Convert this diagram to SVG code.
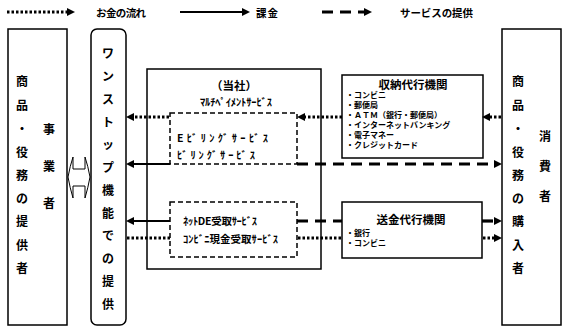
<svg xmlns="http://www.w3.org/2000/svg" width="569" height="334" viewBox="0 0 569 334">
<defs>
<style>
text{font-family:"Noto Sans CJK JP","Noto Sans",sans-serif;font-weight:bold;fill:#000;dominant-baseline:central}
.box{fill:#fff;stroke:#000;stroke-width:1.5}
.dbox{fill:#fff;stroke:#000;stroke-width:1.5;stroke-dasharray:5 3}
.dot{fill:none;stroke:#000;stroke-width:3;stroke-dasharray:2.5 2}
.sol{fill:none;stroke:#000;stroke-width:2.2}
.dash{fill:none;stroke:#000;stroke-width:3.2;stroke-dasharray:11 7}
.col{font-size:12px;text-anchor:middle}
.t11{font-size:11.5px;text-anchor:middle}
.li{font-size:8px}
.hk{font-size:10.5px}
</style>
<marker id="ah" viewBox="0 0 8 8" refX="1" refY="4" markerWidth="8" markerHeight="8" markerUnits="userSpaceOnUse" orient="auto">
<path d="M0,0 L8,4 L0,8 z" fill="#000"/>
</marker>
</defs>
<rect width="569" height="334" fill="#fff"/>

<g id="legend">
<line class="dot" x1="7" y1="12" x2="68" y2="12" marker-end="url(#ah)"/>
<text x="96" y="12" font-size="10.5" textLength="50">お金の流れ</text>
<line class="sol" x1="180" y1="12" x2="243" y2="12" marker-end="url(#ah)"/>
<text x="256" y="12" font-size="10.5" textLength="22">課金</text>
<line class="dash" x1="322" y1="12" x2="365" y2="12" marker-end="url(#ah)"/>
<text x="400" y="12" font-size="10.5" textLength="73">サービスの提供</text>
</g>

<g id="provider">
<rect class="box" x="8" y="29" width="59" height="296"/>
<text class="col"><tspan x="22" y="80">商</tspan><tspan x="22" y="104">品</tspan><tspan x="22" y="128">・</tspan><tspan x="22" y="151">役</tspan><tspan x="22" y="174">務</tspan><tspan x="22" y="197">の</tspan><tspan x="22" y="220">提</tspan><tspan x="22" y="244">供</tspan><tspan x="22" y="267">者</tspan></text>
<text class="col"><tspan x="49" y="128">事</tspan><tspan x="49" y="165">業</tspan><tspan x="49" y="202">者</tspan></text>
</g>

<g id="exchange">
<path d="M68,177 Q70,166 73,157 V169 H85 V157 Q88,166 90,177 Q88,188 85,198 V186 H73 V198 Q70,188 68,177 Z" fill="#fff" stroke="#000" stroke-width="1"/>
</g>

<g id="onestop">
<rect class="box" x="91" y="29" width="35" height="296" rx="6" ry="6"/>
<text class="col"><tspan x="108" y="52">ワ</tspan><tspan x="108" y="75">ン</tspan><tspan x="108" y="98">ス</tspan><tspan x="108" y="121">ト</tspan><tspan x="108" y="143">ッ</tspan><tspan x="108" y="166">プ</tspan><tspan x="108" y="189">機</tspan><tspan x="108" y="212">能</tspan><tspan x="108" y="234">で</tspan><tspan x="108" y="257">の</tspan><tspan x="108" y="280">提</tspan><tspan x="108" y="303">供</tspan></text>
</g>

<g id="company">
<rect class="box" x="147" y="69" width="174" height="200"/>
<text class="t11" x="234" y="85" font-size="10.5">（当社）</text>
<text x="200" y="101" class="hk" textLength="72">ﾏﾙﾁﾍﾟｲﾒﾝﾄｻｰﾋﾞｽ</text>
</g>

<g id="billing">
<rect class="dbox" x="170" y="113" width="127" height="51"/>
<text x="177" y="137" class="hk" textLength="91">Eﾋﾞﾘﾝｸﾞｻｰﾋﾞｽ</text>
<text x="177" y="154" class="hk" textLength="78">ﾋﾞﾘﾝｸﾞｻｰﾋﾞｽ</text>
</g>

<g id="receipt">
<rect class="dbox" x="170" y="202" width="127" height="55"/>
<text x="183" y="220" class="hk" textLength="74">ﾈｯﾄDE受取ｻｰﾋﾞｽ</text>
<text x="183" y="238" class="hk" textLength="95">ｺﾝﾋﾞﾆ現金受取ｻｰﾋﾞｽ</text>
</g>

<g id="collection">
<rect class="box" x="342" y="75" width="141" height="83"/>
<text class="t11" x="413" y="84">収納代行機関</text>
<text class="li"><tspan x="346" y="94">・コンビニ</tspan><tspan x="346" y="104">・郵便局</tspan><tspan x="346" y="114">・ＡＴＭ（銀行・郵便局）</tspan><tspan x="346" y="124">・インターネットバンキング</tspan><tspan x="346" y="134">・電子マネー</tspan><tspan x="346" y="144">・クレジットカード</tspan></text>
</g>

<g id="remit">
<rect class="box" x="342" y="202" width="140" height="56"/>
<text class="t11" x="411" y="219">送金代行機関</text>
<text class="li"><tspan x="346" y="232">・銀行</tspan><tspan x="346" y="242">・コンビニ</tspan></text>
</g>

<g id="consumer">
<rect class="box" x="502" y="29" width="59" height="296"/>
<text class="col"><tspan x="518" y="80">商</tspan><tspan x="518" y="104">品</tspan><tspan x="518" y="128">・</tspan><tspan x="518" y="151">役</tspan><tspan x="518" y="174">務</tspan><tspan x="518" y="197">の</tspan><tspan x="518" y="220">購</tspan><tspan x="518" y="244">入</tspan><tspan x="518" y="267">者</tspan></text>
<text class="col"><tspan x="545" y="135">消</tspan><tspan x="545" y="165">費</tspan><tspan x="545" y="195">者</tspan></text>
</g>

<g id="connectors">
<line class="dot" x1="501" y1="117" x2="489" y2="117" marker-end="url(#ah)"/>
<line class="dot" x1="342" y1="117" x2="304" y2="117" marker-end="url(#ah)"/>
<line class="dot" x1="169" y1="117" x2="133" y2="117" marker-end="url(#ah)"/>
<line class="sol" x1="170" y1="164" x2="133" y2="164" marker-end="url(#ah)"/>
<line class="dash" x1="297" y1="164" x2="495" y2="164" marker-end="url(#ah)"/>
<line class="sol" x1="170" y1="221" x2="133" y2="221" marker-end="url(#ah)"/>
<line class="dot" x1="127" y1="238" x2="170" y2="238"/>
<line class="dash" x1="297" y1="221" x2="342" y2="221"/>
<line class="dash" x1="482" y1="221" x2="495" y2="221" marker-end="url(#ah)"/>
<line class="dot" x1="298" y1="238" x2="342" y2="238"/>
<line class="dot" x1="483" y1="238" x2="495" y2="238" marker-end="url(#ah)"/>
</g>
</svg>
